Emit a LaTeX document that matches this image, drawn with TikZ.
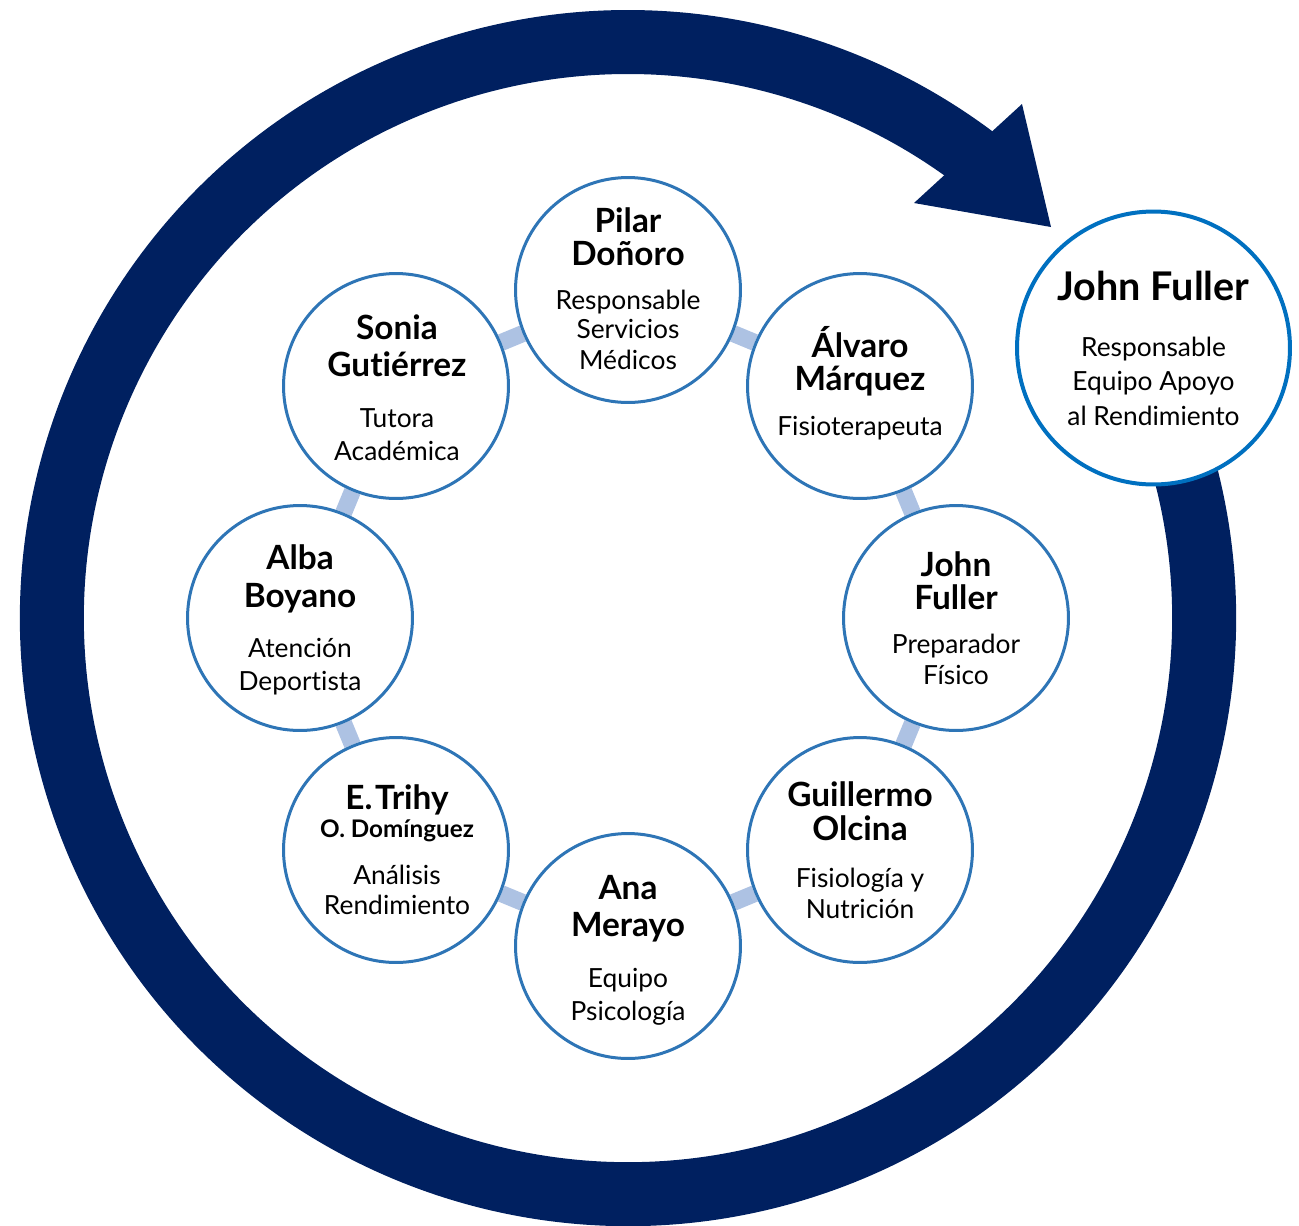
\documentclass[tikz,border=0pt]{standalone}
\usepackage{fontspec}
\setmainfont{Lato}[Ligatures=NoCommon]
\usetikzlibrary{backgrounds}
\definecolor{navy}{RGB}{0,32,96}
\definecolor{ringblue}{RGB}{46,117,182}
\definecolor{bigblue}{RGB}{0,112,192}
\definecolor{linkblue}{RGB}{173,194,227}
\newcommand\nmfont{\fontsize{19pt}{21pt}\selectfont\bfseries}
\newcommand\smnmfont{\fontsize{13.8pt}{15pt}\selectfont\bfseries}
\newcommand\rlfont{\fontsize{15pt}{17pt}\selectfont}
\newcommand\bignmfont{\fontsize{22.5pt}{25pt}\selectfont\bfseries}
\begin{document}
\begin{tikzpicture}[x=0.02cm,y=0.02cm,
  member/.style={circle, draw=ringblue, line width=0.06cm, fill=white,
    minimum size=4.5cm, inner sep=0pt},
  lead/.style={circle, draw=bigblue, line width=0.08cm, fill=white,
    minimum size=5.46cm, inner sep=0pt},
  nm/.style={anchor=base, inner sep=0pt, font=\nmfont},
  smnm/.style={anchor=base, inner sep=0pt, font=\smnmfont},
  bignm/.style={anchor=base, inner sep=0pt, font=\bignmfont},
  rl/.style={anchor=base, inner sep=0pt, font=\rlfont},
  link/.style={draw=linkblue, line width=0.34cm},
  cyclering/.style={draw=navy, line width=1.28cm},
  cyclehead/.style={fill=navy}]
\useasboundingbox (0,0) rectangle (1299,-1225);
% big cycle arrow
\draw[cyclering] ([shift={(628,-618)}]20:576) arc[start angle=20, end angle=-308, radius=576];
\fill[cyclehead] (1051,-227) -- (1022,-104) -- (914,-203) -- cycle;
% lead node
\node[lead] (lead) at (1153.5,-348) {};
\node[bignm] (lead-a) at (1153.5,-300) {John Fuller};
\node[rl] (lead-b) at (1153.5,-356) {Responsable};
\node[rl] (lead-c) at (1153.5,-390) {Equipo Apoyo};
\node[rl] (lead-d) at (1153.5,-425) {al Rendimiento};
% members
\node[member] (pilar) at (628,-290) {};
\node[nm] (pilar-a) at (628,-232) {Pilar};
\node[nm] (pilar-b) at (628,-265) {Doñoro};
\node[rl] (pilar-c) at (628,-309) {Responsable};
\node[rl] (pilar-d) at (628,-338) {Servicios};
\node[rl] (pilar-e) at (628,-369) {Médicos};

\node[member] (alvaro) at (860,-386) {};
\node[nm] (alvaro-a) at (860,-357) {Álvaro};
\node[nm] (alvaro-b) at (860,-390) {Márquez};
\node[rl] (alvaro-c) at (860,-435) {Fisioterapeuta};

\node[member] (johnpf) at (956,-618) {};
\node[nm] (johnpf-a) at (956,-576) {John};
\node[nm] (johnpf-b) at (956,-609) {Fuller};
\node[rl] (johnpf-c) at (956,-653) {Preparador};
\node[rl] (johnpf-d) at (956,-684) {Físico};

\node[member] (guillermo) at (860,-850) {};
\node[nm] (guillermo-a) at (860,-806) {Guillermo};
\node[nm] (guillermo-b) at (860,-840) {Olcina};
\node[rl] (guillermo-c) at (860,-887) {Fisiología y};
\node[rl] (guillermo-d) at (860,-918) {Nutrición};

\node[member] (ana) at (628,-946) {};
\node[nm] (ana-a) at (628,-899) {Ana};
\node[nm] (ana-b) at (628,-936) {Merayo};
\node[rl] (ana-c) at (628,-987) {Equipo};
\node[rl] (ana-d) at (628,-1020) {Psicología};

\node[member] (trihy) at (396,-850) {};
\node[nm] (trihy-a) at (397,-809) {E.\kern1.5pt Trihy};
\node[smnm] (trihy-b) at (397,-837) {O. Domínguez};
\node[rl] (trihy-c) at (397,-884) {Análisis};
\node[rl] (trihy-d) at (397,-914) {Rendimiento};

\node[member] (alba) at (300,-618) {};
\node[nm] (alba-a) at (300,-569) {Alba};
\node[nm] (alba-b) at (300,-607) {Boyano};
\node[rl] (alba-c) at (300,-657) {Atención};
\node[rl] (alba-d) at (300,-690) {Deportista};

\node[member] (sonia) at (396,-386) {};
\node[nm] (sonia-a) at (397,-339) {Sonia};
\node[nm] (sonia-b) at (397,-376) {Gutiérrez};
\node[rl] (sonia-c) at (397,-427) {Tutora};
\node[rl] (sonia-d) at (397,-460) {Académica};
% links
\begin{scope}[on background layer]
\draw[link] (pilar) -- (alvaro);
\draw[link] (alvaro) -- (johnpf);
\draw[link] (johnpf) -- (guillermo);
\draw[link] (guillermo) -- (ana);
\draw[link] (ana) -- (trihy);
\draw[link] (trihy) -- (alba);
\draw[link] (alba) -- (sonia);
\draw[link] (sonia) -- (pilar);
\end{scope}
\end{tikzpicture}
\end{document}
